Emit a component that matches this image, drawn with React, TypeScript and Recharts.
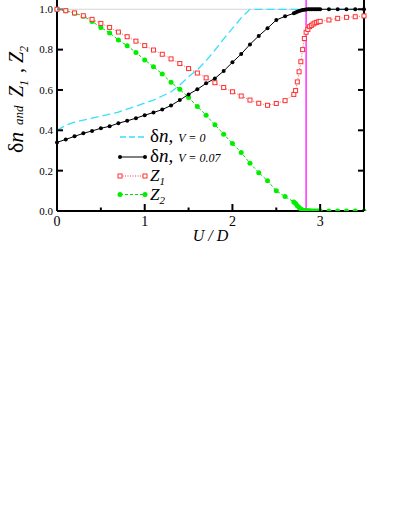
import { LineChart, Line, XAxis, YAxis, ReferenceLine, Legend } from 'recharts';

const FONT = "'Liberation Serif', 'Times New Roman', serif";

// δn, V = 0 (cyan dashed)
const uV0 = [0, 0.1, 0.2, 0.3, 0.4, 0.5, 0.6, 0.7, 0.8, 0.9, 1.0, 1.1, 1.2, 1.3, 1.4, 1.5, 1.6, 1.7, 1.8, 1.9, 2.0, 2.1, 2.2, 2.5, 3.0, 3.5];
const nV0 = [0.40, 0.425, 0.44, 0.45, 0.46, 0.47, 0.48, 0.49, 0.505, 0.52, 0.535, 0.55, 0.57, 0.59, 0.625, 0.665, 0.70, 0.745, 0.797, 0.853, 0.905, 0.957, 1.0, 1.0, 1.0, 1.0];

// shared U grid for the computed curves
const uGrid = [0, 0.1, 0.2, 0.3, 0.4, 0.5, 0.6, 0.7, 0.8, 0.9, 1.0, 1.1, 1.2, 1.3, 1.4, 1.5, 1.6, 1.7, 1.8, 1.9, 2.0, 2.1, 2.2, 2.3, 2.4, 2.5, 2.6, 2.7, 2.72, 2.74, 2.76, 2.78, 2.8, 2.82, 2.84, 2.86, 2.88, 2.9, 2.92, 2.94, 2.96, 2.98, 3.0, 3.1, 3.2, 3.3, 3.4, 3.5];

// δn, V = 0.07 (black)
const n07 = [0.34, 0.355, 0.37, 0.385, 0.397, 0.41, 0.42, 0.435, 0.447, 0.46, 0.475, 0.488, 0.503, 0.523, 0.55, 0.578, 0.603, 0.633, 0.657, 0.694, 0.737, 0.778, 0.826, 0.868, 0.906, 0.947, 0.965, 0.98, 0.984, 0.988, 0.991, 0.994, 0.996, 0.998, 0.999, 1.0, 1.0, 1.0, 1.0, 1.0, 1.0, 1.0, 1.0, 1.0, 1.0, 1.0, 1.0, 1.0];

// Z1 (red squares)
const z1 = [1.0, 0.993, 0.982, 0.968, 0.95, 0.93, 0.91, 0.887, 0.864, 0.842, 0.82, 0.798, 0.777, 0.754, 0.731, 0.706, 0.684, 0.66, 0.636, 0.612, 0.591, 0.57, 0.55, 0.534, 0.524, 0.533, 0.547, 0.578, 0.597, 0.64, 0.69, 0.74, 0.80, 0.855, 0.886, 0.90, 0.914, 0.92, 0.927, 0.932, 0.935, 0.938, 0.94, 0.947, 0.955, 0.96, 0.963, 0.967];

// Z2 (green)
const z2 = [1.0, 0.993, 0.98, 0.966, 0.94, 0.91, 0.883, 0.848, 0.819, 0.786, 0.749, 0.715, 0.679, 0.638, 0.603, 0.563, 0.518, 0.475, 0.427, 0.381, 0.335, 0.29, 0.237, 0.19, 0.15, 0.1, 0.072, 0.045, 0.037, 0.026, 0.017, 0.01, 0.005, 0.003, 0.002, 0.001, 0.001, 0, 0, 0, 0, 0, 0, 0, 0, 0, 0, 0];

const xTicks = [0, 0.5, 1, 1.5, 2, 2.5, 3, 3.5];
const yTicks = [0, 0.2, 0.4, 0.6, 0.8, 1.0];
const uCritical = 2.84;

const dataV0 = uV0.map((u, i) => ({ u, v: nV0[i] }));
const data07 = uGrid.map((u, i) => ({ u, v: n07[i] }));
const dataZ1 = uGrid.map((u, i) => ({ u, v: z1[i] }));
const dataZ2 = uGrid.map((u, i) => ({ u, v: z2[i] }));

const XTick = ({ x, y, payload }: any) => {
  const major = Number.isInteger(payload.value);
  return (
    <g>
      <line x1={x} x2={x} y1={y} y2={y - (major ? 7 : 3.5)} stroke="#000" strokeWidth={2} />
      {major && (
        <text x={x} y={y + 15} textAnchor="middle" fontSize={14} fontFamily={FONT} fill="#000">
          {payload.value}
        </text>
      )}
    </g>
  );
};

const YTickLeft = ({ x, y, payload }: any) => (
  <g>
    <line x1={x} x2={x + 6} y1={y} y2={y} stroke={payload.value === 1 ? '#777' : '#000'} strokeWidth={2} />
    <text x={x - 4} y={y} dy="0.35em" textAnchor="end" fontSize={11} fontFamily={FONT} fill="#000">
      {payload.value.toFixed(1)}
    </text>
  </g>
);

const YTickRight = ({ x, y }: any) => (
  <line x1={x} x2={x - 6} y1={y} y2={y} stroke="#000" strokeWidth={2} />
);

const XLabel = ({ viewBox }: any) => (
  <text x={viewBox.x + viewBox.width / 2} y={viewBox.y + 30} textAnchor="middle" fontSize={16} fontStyle="italic" fontFamily={FONT}>
    U / D
  </text>
);

const YLabel = () => (
  <g transform="translate(23,153) rotate(-90)" fontFamily={FONT} fill="#000">
    <text x={0} y={0} fontSize={22}>δ<tspan fontStyle="italic">n</tspan></text>
    <text x={28} y={0} fontSize={13} fontStyle="italic">and</text>
    <text x={56} y={0} fontSize={20} fontStyle="italic">
      Z<tspan fontSize={12} dy={5}>1</tspan>
    </text>
    <text x={80} y={0} fontSize={20}>,</text>
    <text x={90} y={0} fontSize={20} fontStyle="italic">
      Z<tspan fontSize={12} dy={5}>2</tspan>
    </text>
  </g>
);

const SquareDot = (p: any) => (
  <rect key={`sq-${p.index}`} x={p.cx - 2} y={p.cy - 2} width={4} height={4} fill="#fff" stroke="#ff3030" strokeWidth={1} />
);

const LegendBox = () => (
  <svg width={220} height={80} style={{ overflow: 'visible' }} fontFamily={FONT}>
    <line x1={2} x2={26} y1={11} y2={11} stroke="#33e0ff" strokeWidth={1.3} strokeDasharray="6 3" />
    <text x={32} y={16} fontSize={19}>δ<tspan fontStyle="italic">n,</tspan><tspan fontSize={12} fontStyle="italic" dx={5}>V = 0</tspan></text>

    <line x1={2} x2={27} y1={31} y2={31} stroke="#000" strokeWidth={1} />
    <circle cx={2} cy={31} r={2} fill="#000" />
    <circle cx={27} cy={31} r={2} fill="#000" />
    <text x={32} y={36} fontSize={19}>δ<tspan fontStyle="italic">n,</tspan><tspan fontSize={12} fontStyle="italic" dx={5}>V = 0.07</tspan></text>

    <line x1={2} x2={27} y1={50} y2={50} stroke="#ff3030" strokeWidth={1} strokeDasharray="1 1.5" />
    <rect x={0} y={48} width={4} height={4} fill="#fff" stroke="#ff3030" />
    <rect x={25} y={48} width={4} height={4} fill="#fff" stroke="#ff3030" />
    <text x={32} y={55} fontSize={17} fontStyle="italic">Z<tspan fontSize={11} dy={4}>1</tspan></text>

    <line x1={2} x2={27} y1={68.5} y2={68.5} stroke="#00e000" strokeWidth={1} strokeDasharray="3 2" />
    <circle cx={2} cy={68.5} r={2.5} fill="#00ee00" />
    <circle cx={27} cy={68.5} r={2.5} fill="#00ee00" />
    <text x={32} y={74} fontSize={17} fontStyle="italic">Z<tspan fontSize={11} dy={4}>2</tspan></text>
  </svg>
);

export default function App() {
  return (
    <div style={{ position: 'absolute', left: 0, top: 0, width: 395, height: 511, background: '#fff' }}>
      <LineChart width={395} height={511} margin={{ top: 0, right: 30, bottom: 270, left: 0 }}>
        <XAxis
          type="number"
          dataKey="u"
          domain={[0, 3.5]}
          ticks={xTicks}
          interval={0}
          tickSize={0}
          tickMargin={0}
          tickLine={false}
          axisLine={{ stroke: '#000', strokeWidth: 2 }}
          tick={<XTick />}
          height={30}
          allowDuplicatedCategory={false}
          label={<XLabel />}
        />
        <YAxis
          yAxisId="l"
          type="number"
          domain={[0, 1.046]}
          ticks={yTicks}
          interval={0}
          allowDataOverflow
          tickSize={0}
          tickMargin={0}
          tickLine={false}
          axisLine={{ stroke: '#000', strokeWidth: 2 }}
          tick={<YTickLeft />}
          width={57}
          label={<YLabel />}
        />
        <YAxis
          yAxisId="r"
          orientation="right"
          type="number"
          domain={[0, 1.046]}
          ticks={yTicks}
          interval={0}
          allowDataOverflow
          tickSize={0}
          tickMargin={0}
          tickLine={false}
          axisLine={{ stroke: '#000', strokeWidth: 2 }}
          tick={<YTickRight />}
          width={1}
        />
        <ReferenceLine yAxisId="l" y={1} stroke="#d4d4d4" strokeWidth={1} />
        <ReferenceLine yAxisId="l" x={uCritical} stroke="#ff33ff" strokeWidth={1.5} />
        <Line yAxisId="l" data={dataV0} dataKey="v" type="linear" stroke="#33e0ff" strokeWidth={1.3} strokeDasharray="8 4" dot={false} isAnimationActive={false} />
        <Line yAxisId="l" data={dataZ2} dataKey="v" type="linear" stroke="#00e000" strokeWidth={1} strokeDasharray="3 2" dot={{ r: 2.5, fill: '#00ee00', stroke: 'none' }} isAnimationActive={false} />
        <Line yAxisId="l" data={dataZ1} dataKey="v" type="linear" stroke="#ff6060" strokeWidth={1} strokeDasharray="1 1.5" dot={SquareDot} isAnimationActive={false} />
        <Line yAxisId="l" data={data07} dataKey="v" type="linear" stroke="#000" strokeWidth={1} dot={{ r: 2, fill: '#000', stroke: 'none' }} isAnimationActive={false} />
        <Legend
          layout="horizontal"
          verticalAlign="middle"
          content={<LegendBox />}
          wrapperStyle={{ position: 'absolute', left: 118, top: 126, width: 220, height: 80 }}
        />
      </LineChart>
    </div>
  );
}
